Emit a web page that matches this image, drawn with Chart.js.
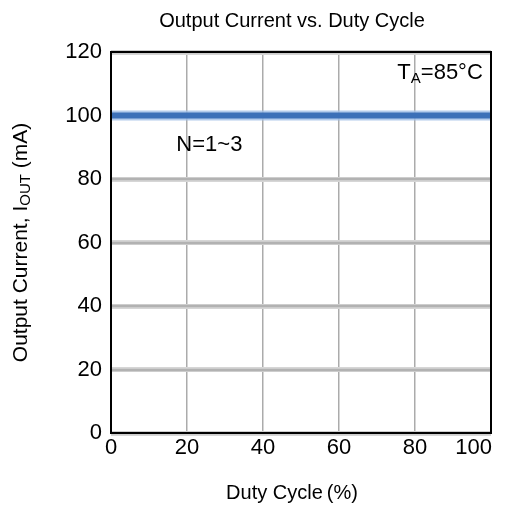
<!DOCTYPE html>
<html>
<head>
<meta charset="utf-8">
<script src="https://cdn.jsdelivr.net/npm/chart.js@4"></script>
<style>
  html, body { margin: 0; padding: 0; background: #fff; }
  #wrap { width: 511px; height: 505px; }
</style>
</head>
<body>
<div id="wrap"><canvas id="currentChart" width="511" height="505"></canvas></div>
<script>
// duty cycle (%) vs output current (mA), N=1~3, TA=85C
const dutyCycle = [0, 20, 40, 60, 80, 100];
const outputCurrent = [100, 100, 100, 100, 100, 100];
const xTicks = [0, 20, 40, 60, 80, 100];
const yTicks = [0, 20, 40, 60, 80, 100, 120];

const font = "'Liberation Sans', Arial, sans-serif";

const points = dutyCycle.map((d, i) => ({ x: d, y: outputCurrent[i] }));

// text drawn in one line with a smaller lowered part, centred on 0,0
function subText(ctx, parts) {
  let total = 0;
  parts.forEach(p => { ctx.font = p.size + "px " + font; p.w = ctx.measureText(p.t).width; total += p.w; });
  let x = -total / 2;
  parts.forEach(p => {
    ctx.font = p.size + "px " + font;
    ctx.fillText(p.t, x, p.dy || 0);
    x += p.w;
  });
}

const extras = {
  id: "extras",
  beforeDatasetsDraw(chart) {
    const { ctx, chartArea: a, scales } = chart;
    ctx.save();
    ctx.strokeStyle = "#b2b2b2";
    ctx.lineWidth = 2.5;
    yTicks.forEach(v => {
      const y = Math.round(scales.y.getPixelForValue(v));
      ctx.beginPath();
      ctx.moveTo(a.left, y);
      ctx.lineTo(a.right, y);
      ctx.stroke();
    });
    ctx.restore();
  },
  afterDraw(chart) {
    const { ctx, chartArea: a, scales, width } = chart;
    const midX = (a.left + a.right) / 2 - 9;
    ctx.save();
    ctx.strokeStyle = "#000";
    ctx.lineWidth = 2;
    ctx.strokeRect(a.left, a.top, a.right - a.left, a.bottom - a.top);

    ctx.fillStyle = "#000";
    ctx.textBaseline = "middle";

    // title
    ctx.textAlign = "center";
    ctx.font = "20px " + font;
    ctx.fillText("Output Current vs. Duty Cycle", midX, 21);

    // x tick labels, last one kept inside the canvas
    ctx.font = "22px " + font;
    xTicks.forEach(v => {
      const w = ctx.measureText(String(v)).width;
      let x = scales.x.getPixelForValue(v);
      x = Math.min(x, width - 19 - w / 2);
      ctx.fillText(String(v), x, a.bottom + 15);
    });

    // x axis title
    ctx.font = "20px " + font;
    ctx.fillText("Duty Cycle\u2009(%)", midX, a.bottom + 60);

    ctx.textAlign = "left";
    // N=1~3 label
    ctx.font = "22px " + font;
    ctx.fillText("N=1~3", scales.x.getPixelForValue(17.2), scales.y.getPixelForValue(90.6));

    // TA=85°C
    ctx.save();
    ctx.translate(scales.x.getPixelForValue(86.6), scales.y.getPixelForValue(113.5));
    subText(ctx, [{ t: "T", size: 22 }, { t: "A", size: 15, dy: 6 }, { t: "=85°C", size: 22 }]);
    ctx.restore();

    // y axis title with subscript
    ctx.translate(21, (a.top + a.bottom) / 2);
    ctx.rotate(-Math.PI / 2);
    subText(ctx, [{ t: "Output Current, I", size: 21 }, { t: "OUT", size: 15, dy: 5 }, { t: " (mA)", size: 21 }]);
    ctx.restore();
  }
};

new Chart(document.getElementById("currentChart"), {
  type: "line",
  data: {
    datasets: [
      {
        // core line, drawn on top
        data: points,
        borderColor: "#3c70b8",
        borderWidth: 6,
        pointRadius: 0,
        tension: 0
      },
      {
        // soft edge under it
        data: points,
        borderColor: "rgba(160,190,230,0.8)",
        borderWidth: 10,
        pointRadius: 0,
        tension: 0
      }
    ]
  },
  options: {
    responsive: false,
    animation: false,
    layout: { padding: { left: 0, right: 20, top: 52, bottom: 0 } },
    plugins: {
      legend: { display: false },
      tooltip: { enabled: false },
      title: { display: false }
    },
    scales: {
      x: {
        type: "linear",
        min: 0,
        max: 100,
        afterBuildTicks: s => { s.ticks = xTicks.map(v => ({ value: v })); },
        afterFit: s => { s.height = 72; },
        ticks: { display: false },
        grid: { color: "#ababab", lineWidth: 1.5, drawTicks: false },
        border: { display: false }
      },
      y: {
        min: 0,
        max: 120,
        afterBuildTicks: s => { s.ticks = yTicks.map(v => ({ value: v })); },
        afterFit: s => { s.width = 111; },
        ticks: { color: "#000", font: { family: font, size: 22 }, padding: 9 },
        grid: { color: "#d6d6d6", lineWidth: 5, drawTicks: false },
        border: { display: false }
      }
    }
  },
  plugins: [extras]
});
</script>
</body>
</html>
